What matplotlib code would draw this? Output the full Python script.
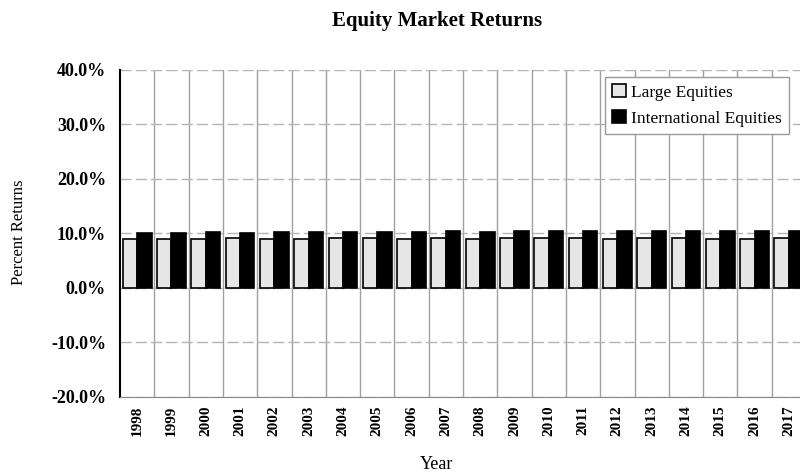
import numpy as np
import matplotlib
matplotlib.use("Agg")
import matplotlib.pyplot as plt
from matplotlib.ticker import FuncFormatter

years = [str(y) for y in range(1998, 2018)]
large_equities = [8.9, 9.0, 9.0, 9.1, 9.0, 9.0, 9.1, 9.1, 9.0, 9.1,
                  9.0, 9.1, 9.1, 9.1, 9.0, 9.1, 9.1, 9.0, 9.0, 9.1]
intl_equities = [10.0, 10.1, 10.2, 10.1, 10.2, 10.3, 10.3, 10.3, 10.3, 10.4,
                 10.3, 10.4, 10.4, 10.4, 10.4, 10.5, 10.5, 10.4, 10.5, 10.5]

plt.rcParams["font.family"] = ["Liberation Serif", "DejaVu Serif"]

fig = plt.figure(figsize=(8, 4.76), dpi=100)
ax = fig.add_axes([0.15, 0.166, 0.8575, 0.687])

x = np.arange(len(years))
w = 0.42
ax.bar(x - w / 2, large_equities, w, color="#e6e6e6", edgecolor="black",
       linewidth=1.2, label="Large Equities", zorder=3)
ax.bar(x + w / 2, intl_equities, w, color="black", edgecolor="black",
       linewidth=1.2, label="International Equities", zorder=3)

ax.set_xlim(-0.5, len(years) - 0.5)
ax.set_ylim(-20, 40)
ax.set_yticks(range(-20, 41, 10))
ax.yaxis.set_major_formatter(FuncFormatter(lambda v, _: f"{v:.1f}%"))
ax.set_xticks(x)
ax.set_xticklabels(years, rotation=90, fontsize=11, fontweight="bold")
ax.tick_params(axis="x", length=0, pad=6)
ax.tick_params(axis="y", length=0, pad=10, labelsize=13)
for lbl in ax.get_yticklabels():
    lbl.set_fontweight("bold")

# category boundary lines and horizontal grid
for b in np.arange(0.5, len(years) - 0.5, 1):
    ax.axvline(b, color="#a0a0a0", linewidth=1.0, zorder=1)
ax.yaxis.grid(True, color="#b4b4b4", linewidth=1.0, linestyle=(0, (8, 3)), zorder=1)

for side in ["top", "right"]:
    ax.spines[side].set_visible(False)
ax.spines["left"].set_linewidth(1.5)
ax.spines["bottom"].set_color("#888888")

leg = ax.legend(loc="upper right", bbox_to_anchor=(0.988, 1.005), fontsize=12.5,
                handlelength=0.8, handleheight=0.8, handletextpad=0.3,
                borderpad=0.4, labelspacing=0.55, fancybox=False,
                framealpha=1, edgecolor="#999999")

fig.text(0.546, 0.955, "Equity Market Returns", ha="center", va="center",
         fontsize=15, fontweight="bold")
fig.text(0.546, 0.025, "Year", ha="center", va="center", fontsize=13)
fig.text(0.024, 0.512, "Percent Returns", ha="center", va="center",
         rotation=90, fontsize=12)

fig.savefig("out.png", dpi=100)
